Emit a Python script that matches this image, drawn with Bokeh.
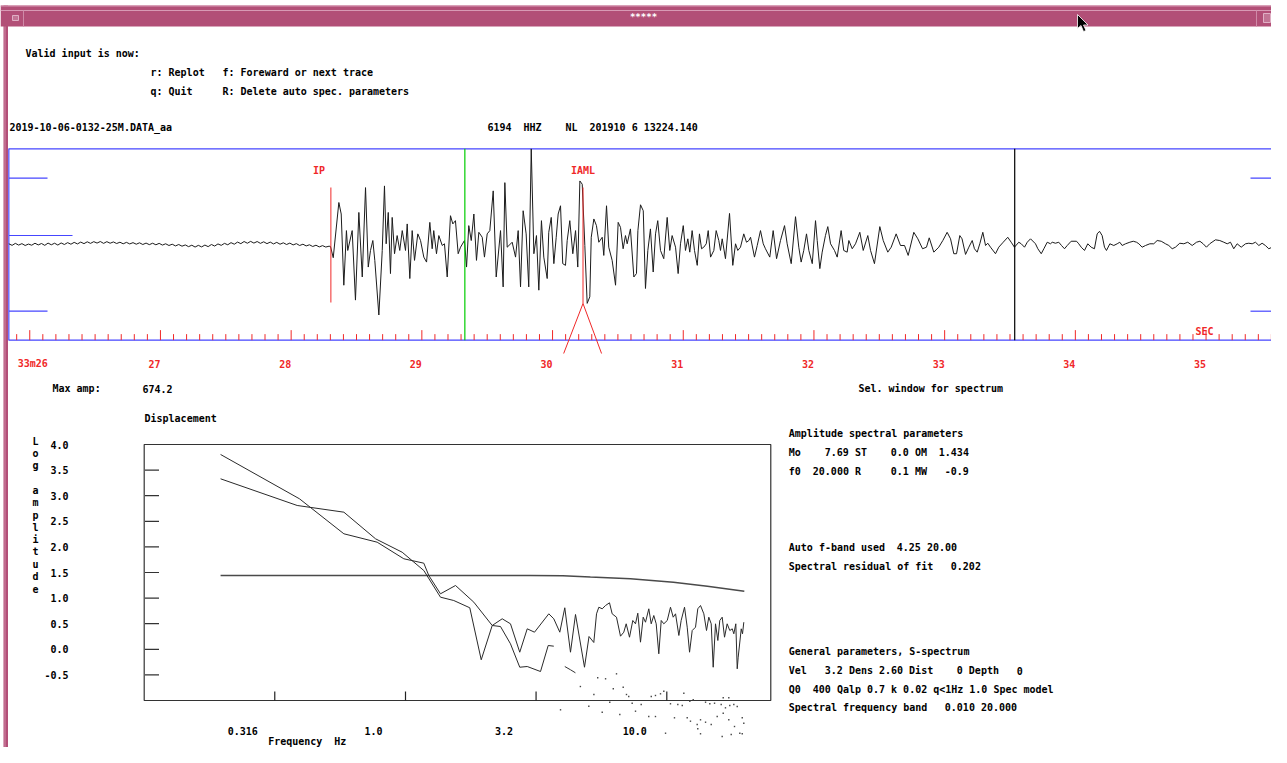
import re
import numpy as np
from bokeh.plotting import figure
from bokeh.models import Range1d, LogScale
from bokeh.core.properties import value
from bokeh.embed import file_html
from bokeh.resources import INLINE

# ======================= DATA =======================
file_name = "2019-10-06-0132-25M.DATA_aa"
station_line = "6194  HHZ    NL  201910 6 13224.140"
max_amp = 674.2

# pre-event noise, regularly sampled (40 sps), counts
noise_t0, noise_dt = 25.84, 0.025
noise_amp = [5, -6, 8, -4, 6, -7, 3, -5, 9, -3,
             7, -6, 10, -2, 9, -4, 11, 0, 13, 2,
             15, 4, 17, 6, 19, 8, 20, 10, 21, 8,
             20, 9, 18, 7, 16, 5, 15, 4, 13, 2,
             12, 0, 10, -1, 9, -2, 8, -4, 5, -7,
             2, -10, 0, -12, -3, -15, -5, -18, -6, -17,
             -4, -15, 0, -11, 4, -6, 8, -2, 13, 2,
             17, 6, 21, 9, 22, 10, 21, 8, 19, 6,
             17, 4, 15, 2, 12, 0, 10, -3, 6, -7,
             2, -10, -2, -14, -5, -17, -8, -18, -12]

# signal: (time s after 33m, counts) read at the trace vertices
trace_strong = [
    (28.301, -14), (28.322, -93), (28.365, 296), (28.383, 215), (28.403, -287), (28.423, 98),
    (28.433, -42), (28.467, 98), (28.492, -392), (28.518, 226), (28.544, -229), (28.569, 401),
    (28.590, -159), (28.607, -42), (28.625, 28), (28.640, -112), (28.671, -497), (28.697, -42),
    (28.714, 413), (28.727, 5), (28.743, 226), (28.760, -205), (28.773, 191), (28.791, -65),
    (28.811, 63), (28.831, -42), (28.850, 98), (28.875, -42), (28.888, 145), (28.908, -240),
    (28.926, 98), (28.944, -112), (28.969, 75), (28.990, 28), (29.015, -89), (29.036, -124),
    (29.061, 156), (29.079, -30), (29.091, 98), (29.112, -65), (29.130, 63), (29.156, -7),
    (29.173, 5), (29.194, -229), (29.219, 203), (29.237, 145), (29.257, 168), (29.278, -65),
    (29.296, -19), (29.326, 28), (29.342, -159), (29.359, 133), (29.378, 28), (29.398, 215),
    (29.418, -112), (29.436, 86), (29.462, 51), (29.479, -89), (29.500, 75), (29.520, 98),
    (29.546, 378), (29.569, -229), (29.602, 98), (29.622, -299), (29.635, 436), (29.653, -19),
    (29.691, 16), (29.717, -89), (29.737, 98), (29.755, -299), (29.775, 238), (29.798, 75),
    (29.818, -299), (29.837, 674), (29.857, -65), (29.877, 63), (29.895, -322), (29.915, 168),
    (29.933, -89), (29.959, -240), (29.971, 86), (29.990, 191), (30.010, -135), (30.028, 51),
    (30.043, 215), (30.061, 273), (30.078, -135), (30.099, -147), (30.112, 28), (30.132, 168),
    (30.155, -65), (30.176, 98), (30.193, -159), (30.209, 448), (30.227, 425), (30.247, -7),
    (30.265, -415), (30.285, -369), (30.296, 51), (30.316, 180), (30.336, 133), (30.354, 16),
    (30.380, 51), (30.392, -77), (30.413, 273), (30.430, -19), (30.456, -112), (30.482, -287),
    (30.502, 156), (30.520, 121), (30.540, -30), (30.558, 63), (30.571, 5), (30.596, 110),
    (30.622, -229), (30.642, -205),
]
trace_coda = [
    (30.653, 98), (30.673, 280), (30.694, 238), (30.711, -310), (30.729, -42), (30.749, 110),
    (30.770, -194), (30.788, 75), (30.805, 168), (30.826, -42), (30.851, -100), (30.877, 191),
    (30.897, -42), (30.915, 63), (30.941, -19), (30.961, -205), (30.979, 5), (31.000, 133),
    (31.017, -42), (31.035, 40), (31.050, -54), (31.068, 98), (31.086, -42), (31.107, -147),
    (31.124, 75), (31.140, -30), (31.157, -19), (31.176, 5), (31.191, 98), (31.209, -89),
    (31.234, -42), (31.252, 98), (31.272, 28), (31.285, -42), (31.298, 40), (31.323, -100),
    (31.354, 219), (31.379, -147), (31.400, 5), (31.417, -42), (31.438, -19), (31.463, 75),
    (31.484, 16), (31.502, 28), (31.515, 51), (31.545, -89), (31.566, -7), (31.591, 98),
    (31.612, 5), (31.629, -30), (31.662, -89), (31.688, 98), (31.714, -100), (31.744, 28),
    (31.775, 133), (31.795, 5), (31.826, -135), (31.859, 196), (31.884, -19), (31.902, -124),
    (31.922, -42), (31.943, 75), (31.961, -42), (31.987, -135), (32.012, 168), (32.025, 28),
    (32.045, -170), (32.063, -54), (32.088, 63), (32.106, 126), (32.127, 5), (32.157, -42),
    (32.178, -89), (32.208, 98), (32.228, -42), (32.254, -54), (32.267, 28), (32.293, -30),
    (32.318, 5), (32.351, 86), (32.377, -42), (32.412, 63), (32.433, -42), (32.463, -135),
    (32.504, 126), (32.530, 28), (32.565, -54), (32.591, -19), (32.629, 75), (32.662, -7),
    (32.693, -7), (32.721, -77), (32.764, 86), (32.795, 40), (32.831, -30), (32.861, -19),
    (32.882, 47), (32.917, -54), (32.955, -19), (32.986, 28), (33.019, 86), (33.045, 40),
    (33.070, -65), (33.091, -65), (33.116, 63),
]
trace_tail = [
    (33.133, 40), (33.160, -70), (33.185, -19), (33.211, 28), (33.228, -30), (33.249, -54),
    (33.269, 5), (33.292, 86), (33.313, -7), (33.330, 9), (33.351, -19), (33.389, -65),
    (33.414, -19), (33.448, 16), (33.483, 51), (33.509, 16), (33.534, -19), (33.567, 16),
    (33.586, 5), (33.611, -19), (33.632, 16), (33.657, 40), (33.695, 5), (33.713, -30),
    (33.739, -65), (33.759, -30), (33.785, 16), (33.810, 5), (33.823, 16), (33.848, 9),
    (33.873, 16), (33.894, -7), (33.917, -30), (33.938, -7), (33.968, 23), (34.009, 23),
    (34.026, 5), (34.045, -19), (34.070, -42), (34.095, 5), (34.121, -19), (34.146, -30),
    (34.167, 75), (34.185, 93), (34.205, 63), (34.223, -19), (34.238, -42), (34.264, 5),
    (34.294, -7), (34.320, 5), (34.340, 16), (34.358, -7), (34.384, 5), (34.417, 16),
    (34.443, 23), (34.468, 16), (34.486, 5), (34.511, -19), (34.537, -7), (34.570, 5),
    (34.600, 5), (34.626, 28), (34.657, 23), (34.690, 5), (34.715, -7), (34.741, -30),
    (34.766, -19), (34.799, 9), (34.830, 5), (34.860, 16), (34.894, -7), (34.927, 16),
    (34.953, 23), (34.978, 5), (35.003, -19), (35.028, 5), (35.072, 33), (35.105, 28),
    (35.136, 16), (35.162, 5), (35.187, 16), (35.212, -30), (35.238, 5), (35.269, -19),
    (35.302, 5), (35.327, 9), (35.353, 5), (35.378, 16), (35.404, -7), (35.429, 9),
    (35.454, -7), (35.480, -30), (35.505, -19), (35.530, 5), (35.556, 9), (35.581, -19),
]
trace_end = 35.60

phase_names = ["IP", "IAML"]
phase_times = [28.304, 30.233]
spec_window = [29.329, 33.536]          # green start, black end

time_ticks = [26, 27, 28, 29, 30, 31, 32, 33, 34, 35]
time_tick_labels = ["33m26", "27", "28", "29", "30", "31", "32", "33", "34", "35"]

# spectrum (log10 amplitude vs frequency)
spec_a_f = [0.196, 0.393, 0.581, 0.779, 0.985, 1.175, 1.228, 1.361, 1.554, 1.826,
            2.147, 2.310, 2.522, 2.737, 2.923, 3.286, 3.517, 3.694]
spec_a_v = [3.805, 2.939, 2.256, 2.092, 1.768, 1.682, 1.441, 1.084, 1.246, 0.920,
            0.465, 0.445, 0.107, -0.350, -0.336, -0.434, 0.074, 0.061]
spec_b = [
    (0.196, 3.330), (0.385, 2.809), (0.581, 2.678), (0.768, 2.158), (0.971, 1.896),
    (1.175, 1.539), (1.361, 1.018), (1.530, 0.953), (1.762, 0.811), (1.949, -0.205),
    (2.147, 0.465), (2.345, 0.596), (2.522, 0.498), (2.737, -0.057), (2.923, 0.400),
    (3.117, 0.334), (3.535, 0.693), (3.694, 0.596), (3.895, 0.334), (4.070, 0.811),
    (4.280, -0.057), (4.473, 0.680), (4.842, -0.350), (5.039, 0.250), (5.256, 0.133),
    (5.383, 0.693), (5.494, 0.822), (5.661, 0.791), (5.827, 0.855), (6.036, 0.908),
    (6.180, 0.693), (6.419, 0.627), (6.649, 0.256), (6.845, 0.334), (6.992, 0.498),
    (7.199, 0.236), (7.411, 0.563), (7.589, 0.498), (7.745, 0.705), (7.931, 0.139),
    (8.122, 0.627), (8.289, 0.529), (8.533, 0.791), (8.716, 0.498), (8.917, 0.660),
    (9.108, 0.498), (9.320, -0.088), (9.519, 0.563), (9.739, 0.498), (10.04, 0.563),
    (10.33, 0.822), (10.58, 0.627), (10.80, 0.693), (11.12, 0.270), (11.35, 0.563),
    (11.69, 0.822), (11.97, 0.432), (12.22, -0.057), (12.51, 0.367), (12.88, 0.432),
    (13.14, 0.791), (13.46, 0.855), (13.86, 0.693), (14.19, 0.367), (14.48, 0.627),
    (14.79, 0.498), (15.05, -0.350), (15.36, 0.498), (15.68, 0.172), (15.95, 0.563),
    (16.29, 0.627), (16.63, 0.236), (17.02, 0.498), (17.42, 0.367), (17.80, 0.400),
    (18.05, 0.303), (18.37, 0.498), (18.60, -0.381), (18.76, -0.154), (19.27, 0.400),
    (19.49, 0.303), (19.71, 0.529),
]
model_f = [0.196, 0.5, 1.0, 2.0, 3.0, 4.0, 5.1, 7.26, 10.6, 14.3, 19.8]
model_v = [1.44, 1.44, 1.44, 1.44, 1.44, 1.435, 1.41, 1.38, 1.31, 1.23, 1.135]
seg_f = [4.07, 4.28, 4.47]
seg_v = [-0.336, -0.400, -0.459]
noise_dots = [
    (5.44, -0.557), (5.83, -0.576), (6.42, -0.479), (6.24, -0.771), (6.81, -0.740),
    (5.26, -0.883), (7.01, -0.883), (7.15, -0.922), (8.72, -0.922), (9.05, -0.902),
    (9.46, -0.869), (9.74, -0.818), (11.62, -0.857), (12.62, -0.986), (16.44, -0.947),
    (17.27, -0.947), (6.05, -1.033), (7.37, -1.053), (7.98, -1.078), (10.33, -1.064),
    (11.02, -1.078), (11.46, -1.098), (12.25, -1.014), (14.07, -1.033), (14.61, -1.064),
    (15.23, -1.053), (16.15, -1.078), (17.42, -1.098), (18.05, -1.078), (18.60, -1.117),
    (16.77, -1.143), (5.66, -1.229), (6.61, -1.273), (7.59, -1.209), (8.53, -1.313),
    (9.05, -1.313), (10.70, -1.338), (11.97, -1.338), (12.32, -1.404), (13.07, -1.469),
    (13.46, -1.377), (14.07, -1.424), (14.79, -1.469), (15.59, -1.313), (16.44, -1.248),
    (17.27, -1.377), (19.44, -1.338), (19.71, -1.443), (13.14, -1.553), (18.16, -1.508),
    (19.03, -1.639), (9.89, -1.639), (16.29, -1.703), (13.46, -1.650), (17.64, -1.664),
    (19.44, -1.650), (8.24, -1.533), (10.09, -1.943), (18.60, -2.010), (4.67, -0.727),
    (3.92, -1.182), (5.03, -1.111),
]
spec_f_lim = (0.1, 25.0)
spec_v_lim = (-1.0, 4.0)
amp_ticks = [3.5, 3.0, 2.5, 2.0, 1.5, 1.0, 0.5, 0.0, -0.5]
amp_tick_labels_v = [4.0, 3.5, 3.0, 2.5, 2.0, 1.5, 1.0, 0.5, 0.0, -0.5]
amp_tick_labels = ["4.0", "3.5", "3.0", "2.5", "2.0", "1.5", "1.0", "0.5", "0.0", "-0.5"]
freq_ticks = [0.316, 1.0, 3.16, 10.0]
freq_tick_labels = ["0.316", "1.0", "3.2", "10.0"]

menu_lines = ["Valid input is now:",
              "r: Replot   f: Foreward or next trace",
              "q: Quit     R: Delete auto spec. parameters"]
param_lines = ["Amplitude spectral parameters",
               "Mo    7.69 ST    0.0 OM  1.434",
               "f0  20.000 R     0.1 MW   -0.9",
               "Auto f-band used  4.25 20.00",
               "Spectral residual of fit   0.202",
               "General parameters, S-spectrum",
               "Vel   3.2 Dens 2.60 Dist    0 Depth   0",
               "Q0  400 Qalp 0.7 k 0.02 q<1Hz 1.0 Spec model",
               "Spectral frequency band   0.010 20.000"]

# ======================= LAYOUT =======================
W, H = 1271, 747
CX0, CX1 = 0, W              # canvas coordinates == screenshot pixels
CY0, CY1 = 0, H
FONT = "DejaVu Sans Mono"
CW = 6.0                     # monospace advance at 10px

T_PX26, T_PXS = 29.25, 130.7     # pixel of 26 s, pixels per second
TR_BASE, TR_CPP = 244.0, 7.05    # trace baseline pixel, counts per pixel
S_PX1, S_PXD = 405.0, 261.3      # pixel of 1 Hz, pixels per decade
S_PY0, S_PYU = 648.8, 51.2       # pixel of log amp 0, pixels per unit

BLUE = "#4646ff"
RED = "#f02828"
PINK = "#b24f77"

p = figure(width=W, height=H, output_backend="svg", toolbar_location=None,
           x_range=Range1d(CX0, CX1), y_range=Range1d(CY1, CY0),
           x_axis_type=None, y_axis_type=None, outline_line_color=None,
           background_fill_color="white", border_fill_color="white")
p.min_border = 0
p.extra_x_ranges = {
    "time": Range1d(26 + (CX0 - T_PX26) / T_PXS, 26 + (CX1 - T_PX26) / T_PXS),
    "freq": Range1d(10 ** ((CX0 - S_PX1) / S_PXD), 10 ** ((CX1 - S_PX1) / S_PXD)),
}
p.extra_x_scales = {"freq": LogScale()}
p.extra_y_ranges = {
    "counts": Range1d((TR_BASE - CY1) * TR_CPP, (TR_BASE - CY0) * TR_CPP),
    "amp": Range1d((S_PY0 - CY1) / S_PYU, (S_PY0 - CY0) / S_PYU),
}

TXT = dict(text_font=value(FONT), text_font_style="bold", text_font_size="10px",
           text_baseline="middle")


def chunks(x, y, s):
    out = []
    for m in re.finditer(r"\S+(?: \S+)*", s):
        out.append((x + m.start() * CW, y, m.group()))
    return out


def put_lines(items, color="black"):
    xs, ys, ts = [], [], []
    for (x, y, s) in items:
        for cx, cy, ct in chunks(x, y, s):
            xs.append(cx); ys.append(cy); ts.append(ct)
    p.text(x=xs, y=ys, text=ts, text_color=color, text_align="left", **TXT)


# ---------------- window frame / title bar ----------------
p.quad(left=3, right=7.5, top=5, bottom=CY1, fill_color=PINK, line_color=None)
p.segment(x0=4.5, y0=5, x1=4.5, y1=CY1, line_color="#d08aa8", line_width=1)
p.quad(left=CX0, right=CX1, top=5, bottom=26, fill_color=PINK, line_color=None)
p.segment(x0=[CX0, CX0], y0=[5.5, 10], x1=[CX1, CX1], y1=[5.5, 10], line_color="#d89ab5",
          line_width=1)
p.segment(x0=[23, 1256], y0=[10, 10], x1=[23, 1256], y1=[26, 26], line_color="#cf8aa8")
p.quad(left=[12, 1263], right=[18, 1270], top=[15, 13], bottom=[20, 22],
       fill_color="#c27595", line_color="#e0b0c5")
p.text(x=[643], y=[16], text=["*****"], text_color="white", text_align="center",
       text_font=value(FONT), text_font_style="bold", text_font_size="9px",
       text_baseline="middle")
p.patch(x=[1077, 1077, 1080.5, 1083, 1085.5, 1083, 1087.5],
        y=[14, 28, 25, 31, 30, 24.5, 24.5], fill_color="black", line_color="white",
        line_width=0.8)

# ---------------- header texts ----------------
put_lines([(25, 52.5, menu_lines[0]), (150, 71.5, menu_lines[1]), (150, 90.5, menu_lines[2]),
           (9, 126.5, file_name), (487, 126.5, station_line)])

# ---------------- seismogram ----------------
noise_t = [noise_t0 + i * noise_dt for i in range(len(noise_amp))]
sig = trace_strong + trace_coda + trace_tail
trace_t = noise_t + [t for t, a in sig]
trace_a = noise_amp + [a for t, a in sig]

p.quad(left=noise_t0, right=trace_end, top=max_amp, bottom=-max_amp,
       x_range_name="time", y_range_name="counts", fill_color=None,
       line_color=BLUE, line_width=1.2)
p.segment(x0=[8.5, 8.5, 8.5, 1250, 1250], y0=[177.7, 235, 310.7, 177.7, 310.7],
          x1=[47, 72, 47, CX1, CX1], y1=[177.7, 235, 310.7, 177.7, 310.7],
          line_color=BLUE, line_width=1.2)

p.line(trace_t, trace_a, x_range_name="time", y_range_name="counts",
       line_color="#1c1c1c", line_width=1)

box_bottom = TR_BASE + max_amp / TR_CPP
tick_t = np.round(np.arange(259, 356) / 10.0, 1)
major = np.isclose(tick_t, np.round(tick_t))
p.segment(x0=tick_t, x1=tick_t, y0=box_bottom, y1=np.where(major, box_bottom - 10, box_bottom - 6),
          x_range_name="time", line_color=RED, line_width=1)
p.text(x=time_ticks, y=[363] * len(time_ticks), text=time_tick_labels, x_offset=-12,
       x_range_name="time", text_color=RED, text_align="left", **TXT)
p.text(x=[1195], y=[330.5], text=["SEC"], text_color=RED, text_align="left", **TXT)

box_top = TR_BASE - max_amp / TR_CPP
p.segment(x0=spec_window, x1=spec_window, y0=[box_top] * 2, y1=[box_bottom] * 2,
          x_range_name="time", line_color=["#00cc00", "black"], line_width=1.2)

p.segment(x0=phase_times, x1=phase_times, y0=[187, 187], y1=[302, 303],
          x_range_name="time", line_color=RED, line_width=1)
p.text(x=phase_times, y=[169.5, 169.5], text=phase_names, x_offset=[-18, -12],
       x_range_name="time", text_color=RED, text_align="left", **TXT)
amp_pick = phase_times[1]
p.segment(x0=[amp_pick, amp_pick], y0=[303, 303], x1=[amp_pick - 0.148, amp_pick + 0.142],
          y1=[353, 353], x_range_name="time", line_color=RED, line_width=1)

# ---------------- middle labels ----------------
put_lines([(52, 388, "Max amp:"), (142, 388, f"{max_amp:.1f}"),
           (858, 388, "Sel. window for spectrum"), (144, 418, "Displacement")])

# ---------------- spectrum ----------------
p.quad(left=spec_f_lim[0], right=spec_f_lim[1], bottom=spec_v_lim[0], top=spec_v_lim[1],
       x_range_name="freq", y_range_name="amp", fill_color=None,
       line_color="#333333", line_width=1.2)
p.segment(x0=[144.5] * len(amp_ticks), x1=[158.5] * len(amp_ticks), y0=amp_ticks, y1=amp_ticks,
          y_range_name="amp", line_color="#333333", line_width=1.2)
spec_bottom = S_PY0 - spec_v_lim[0] * S_PYU
p.segment(x0=freq_ticks, x1=freq_ticks, y0=[spec_bottom] * 4, y1=[spec_bottom - 9] * 4,
          x_range_name="freq", line_color="#222222", line_width=1.2)
p.text(x=[68] * len(amp_tick_labels), y=amp_tick_labels_v, text=amp_tick_labels,
       y_range_name="amp", text_color="black", text_align="right", **TXT)
p.text(x=freq_ticks, y=[730] * 4, text=freq_tick_labels, x_offset=-32, x_range_name="freq",
       text_color="black", text_align="center", **TXT)
put_lines([(267.7, 740.5, "Frequency  Hz")])

ylab = "Log amplitude"
p.text(x=[35] * sum(c != " " for c in ylab),
       y=[440.7 + 12.3 * i for i, c in enumerate(ylab) if c != " "],
       text=[c for c in ylab if c != " "], text_color="black", text_align="center", **TXT)

p.line(model_f, model_v, x_range_name="freq", y_range_name="amp",
       line_color="#4a4a4a", line_width=1.5)
p.line(spec_a_f, spec_a_v, x_range_name="freq", y_range_name="amp",
       line_color="#2a2a2a", line_width=1)
p.line([f for f, v in spec_b], [v for f, v in spec_b], x_range_name="freq", y_range_name="amp",
       line_color="#2a2a2a", line_width=1)
p.line(seg_f, seg_v, x_range_name="freq", y_range_name="amp", line_color="#333333", line_width=1)
p.scatter([f for f, v in noise_dots], [v for f, v in noise_dots], x_range_name="freq",
          y_range_name="amp", marker="square", size=1.4, fill_color="#444444", line_color=None)

# ---------------- parameter block ----------------
param_y = [432.7, 451.7, 470.7, 546.7, 565.7, 650.7, 670.0, 688.7, 707.3]
put_lines([(788.3, y, s) for y, s in zip(param_y, param_lines)])

open("out.html", "w").write(file_html(p, INLINE))
